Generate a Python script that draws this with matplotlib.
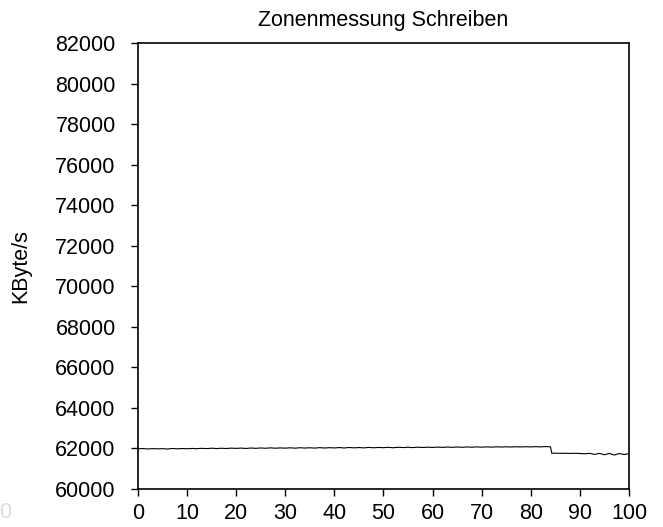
import matplotlib
matplotlib.use("Agg")
import matplotlib.pyplot as plt

# position on disk (%) and write rate (KByte/s)
positions = list(range(0, 85)) + [84.3] + list(range(85, 101))
rates = [
    61985, 61995, 61975, 61992, 61980, 61990, 61972, 61998, 61982, 61996, 61985,
    62002, 61988, 62006, 61994, 62012, 61996, 62010, 61998, 62016, 62004,
    62018, 62000, 62022, 62006, 62024, 62010, 62030, 62012, 62028, 62016,
    62032, 62014, 62036, 62020, 62034, 62018, 62040, 62022, 62038, 62026,
    62044, 62024, 62048, 62030, 62046, 62028, 62052, 62034, 62050, 62038,
    62056, 62036, 62058, 62044, 62060, 62042, 62064, 62048, 62062, 62050,
    62068, 62052, 62070, 62056, 62072, 62058, 62074, 62062, 62076, 62064,
    62078, 62066, 62080, 62070, 62082, 62072, 62084, 62074, 62086, 62076,
    62090, 62078, 62092, 62080,
    61760,
    61768, 61758, 61765, 61755, 61762, 61752, 61735, 61760, 61705, 61758,
    61690, 61755, 61675, 61750, 61700, 61745,
]
x_ticks = list(range(0, 101, 10))
y_ticks = list(range(60000, 82001, 2000))

plt.rcParams["font.family"] = ["Liberation Sans", "DejaVu Sans"]
fs = 15.5

fig = plt.figure(figsize=(6.63, 5.27), dpi=100)
ax = fig.add_axes([0.2081, 0.0721, 0.7406, 0.8463])
ax.plot(positions, rates, color="black", linewidth=0.8)

ax.set_xlim(0, 100)
ax.set_ylim(60000, 82000)
ax.set_xticks(x_ticks)
ax.set_yticks(y_ticks)
ax.tick_params(axis="both", direction="out", length=5, width=1, labelsize=fs)
ax.tick_params(axis="y", pad=11)
ax.tick_params(axis="x", pad=5)
for s in ax.spines.values():
    s.set_linewidth(1.2)

ax.set_title("Zonenmessung Schreiben", fontsize=fs, pad=12)
ax.set_ylabel("KByte/s", fontsize=fs, labelpad=17)

fig.text(0.008, 0.028, "0", fontsize=fs, color="#dddddd", va="center", ha="center")

fig.savefig("out.png", dpi=100)
